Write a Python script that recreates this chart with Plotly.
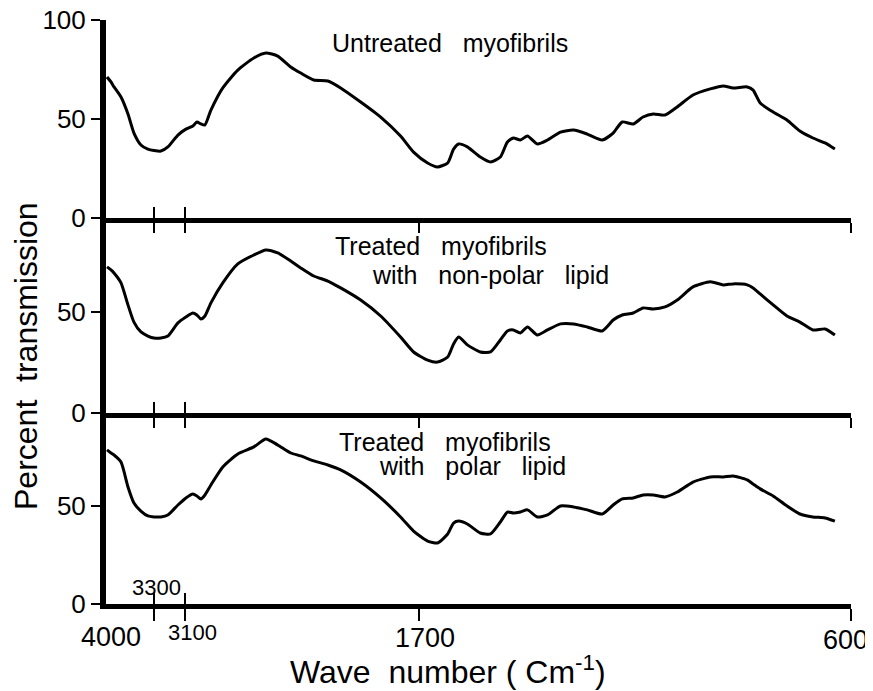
import numpy as np
import plotly.graph_objects as go
from plotly.subplots import make_subplots

WAVENUMBER = [3985, 3927, 3883, 3781, 3679, 3592, 3490, 3388, 3300, 3255, 3210, 3145,
              3094, 3052, 3028, 3004, 2980, 2944, 2873, 2783, 2687, 2615, 2544, 2466,
              2406, 2328, 2244, 2167, 2047, 1927, 1808, 1730, 1677, 1652, 1626, 1611,
              1598, 1576, 1543, 1517, 1492, 1474, 1459, 1441, 1423, 1398, 1372, 1339,
              1306, 1271, 1233, 1205, 1182, 1154, 1129, 1103, 1073, 1042, 1002, 958,
              925, 900, 864, 849, 831, 798, 763, 730, 697, 666, 641]

UNTREATED = [71.2, 68.7, 66.2, 61.1, 52.5, 42.9, 36.9, 34.8, 34.1, 33.8, 35.9, 41.9,
             44.9, 46.5, 48.5, 47.5, 47.0, 54.5, 65.7, 74.7, 80.8, 83.3, 81.8, 76.3,
             73.2, 69.7, 69.2, 65.7, 58.6, 51.0, 41.4, 33.3, 27.8, 25.8, 27.8, 34.8,
             37.4, 35.9, 30.8, 28.3, 30.8, 38.4, 40.4, 39.4, 41.4, 37.4, 39.4, 43.4,
             44.4, 42.4, 39.4, 42.9, 48.5, 47.5, 51.0, 52.5, 52.0, 56.1, 62.1, 65.2,
             66.7, 65.7, 66.2, 64.6, 58.1, 53.5, 49.5, 43.9, 40.4, 37.9, 34.8]

NON_POLAR = [72.3, 70.8, 69.3, 64.4, 53.5, 45.0, 40.1, 38.1, 37.1, 37.1, 38.1, 44.6,
             47.5, 49.5, 48.5, 46.5, 48.0, 54.5, 64.4, 73.8, 78.2, 80.7, 79.2, 75.2,
             71.8, 67.8, 65.3, 61.9, 55.9, 48.0, 37.6, 30.2, 26.2, 25.2, 27.7, 34.2,
             37.6, 33.7, 30.2, 30.2, 36.1, 40.6, 41.1, 39.6, 42.6, 38.6, 41.1, 44.1,
             44.1, 42.6, 40.6, 46.0, 48.5, 49.5, 52.0, 51.5, 52.5, 55.9, 62.4, 64.9,
             63.4, 63.9, 63.4, 61.9, 58.9, 53.5, 48.0, 45.0, 41.1, 41.6, 38.6]

POLAR = [78.6, 77.0, 76.0, 72.4, 59.7, 51.5, 47.4, 44.9, 44.4, 44.4, 45.4, 50.5,
         54.1, 56.1, 55.1, 53.6, 55.6, 60.7, 69.9, 76.5, 80.1, 84.2, 81.1, 77.0,
         75.5, 73.0, 70.9, 68.4, 62.2, 54.1, 44.4, 37.2, 32.1, 31.1, 35.7, 41.3,
         42.3, 40.8, 36.2, 35.7, 41.8, 46.9, 46.4, 46.9, 48.0, 44.4, 45.4, 50.0,
         49.5, 48.0, 45.9, 50.5, 53.6, 54.1, 55.6, 55.6, 54.6, 57.1, 62.2, 64.8,
         64.8, 65.3, 63.3, 61.2, 58.7, 55.1, 50.0, 45.9, 44.4, 43.9, 42.3]

SP = "\u00a0\u00a0\u00a0"
PANEL_LABELS = [
    ["Untreated" + SP + "myofibrils"],
    ["Treated" + SP + "myofibrils", "with" + SP + "non-polar" + SP + "lipid"],
    ["Treated" + SP + "myofibrils", "with" + SP + "polar" + SP + "lipid"],
]

# the printed wave-number scale is piecewise linear between these marks
AXIS_WN = [4000, 3300, 3100, 1700, 600]
AXIS_POS = [0, 48, 79, 313, 746]

X_TICK_TEXT = ["4000", "3300", "3100", "1700", "600"]

FONT = "Liberation Sans, Arial, sans-serif"


def to_axis(wn):
    return np.interp(-np.asarray(wn, dtype=float), [-w for w in AXIS_WN], AXIS_POS)


# page body has an 8px margin, so the figure is 8px smaller than the window
W, H = 865, 683
L, R, T, B = 98, 22, 12, 87
PW, PH = W - L - R, H - T - B
X0, Y0 = 106, 604  # plot-area origin in window pixels


def px(x):
    return (x - X0) / PW


def py(y):
    return (Y0 - y) / PH


fig = make_subplots(rows=3, cols=1, vertical_spacing=0)

series = [UNTREATED, NON_POLAR, POLAR]
for i, vals in enumerate(series):
    fig.add_trace(go.Scatter(
        x=to_axis(WAVENUMBER), y=vals, mode="lines",
        line=dict(color="black", width=3, shape="spline", smoothing=0.6),
        showlegend=False, hoverinfo="skip",
    ), row=i + 1, col=1)

domains = [[py(218), 1.0], [py(413), py(218)], [0.0, py(413)]]
ranges = [[0, 100], [0, 96.5], [0, 97.4]]
yticks = [[0, 50, 100], [0, 50], [0, 50]]

for i in range(3):
    ax = "" if i == 0 else str(i + 1)
    fig.layout["yaxis" + ax].update(
        domain=domains[i], range=ranges[i], tickvals=yticks[i],
        showline=True, linewidth=6, linecolor="black",
        ticks="outside", ticklen=9, tickwidth=2, tickcolor="black",
        showgrid=False, zeroline=False, automargin=False, ticklabeloverflow="allow",
        tickfont=dict(family=FONT, size=26, color="black"),
    )
    tv = to_axis([3300, 3100, 1700, 600])
    fig.layout["xaxis" + ax].update(
        range=[0, 746], tickvals=tv,
        showline=True, linewidth=5, linecolor="black",
        ticks="outside", ticklen=12 if i == 2 else 10, tickwidth=2, tickcolor="black",
        minor=dict(tickvals=to_axis([3300, 3100]), ticks="inside", ticklen=11,
                   tickwidth=2, tickcolor="black"),
        showgrid=False, zeroline=False, showticklabels=False, automargin=False,
    )

annotations = []
label_pos = [[(330, 43)], [(333, 246), (370, 275)], [(337, 442), (377, 466)]]
for lines, spots in zip(PANEL_LABELS, label_pos):
    for text, (x, y) in zip(lines, spots):
        annotations.append(dict(
            text=text, x=px(x), y=py(y), xref="paper", yref="paper",
            xanchor="left", yanchor="middle", showarrow=False,
            font=dict(family=FONT, size=25, color="black"),
        ))

# wave-number labels of the bottom axis (3300 sits above the axis)
tick_spots = [(111, 637, 27), (156, 587, 22), (192, 632, 22), (425, 638, 27), (845, 640, 27)]
for text, (x, y, size) in zip(X_TICK_TEXT, tick_spots):
    annotations.append(dict(
        text=text, x=px(x), y=py(y), xref="paper", yref="paper",
        xanchor="center", yanchor="middle", showarrow=False,
        font=dict(family=FONT, size=size, color="black"),
    ))

annotations.append(dict(
    text="Percent  transmission", x=px(26), y=py(356), xref="paper", yref="paper",
    xanchor="center", yanchor="middle",
    textangle=-90, showarrow=False, font=dict(family=FONT, size=32, color="black"),
))
annotations.append(dict(
    text="Wave  number ( Cm<sup>-1</sup>)", x=px(448), y=py(670), xref="paper", yref="paper",
    xanchor="center", yanchor="middle",
    showarrow=False, font=dict(family=FONT, size=32, color="black"),
))

fig.update_layout(
    width=W, height=H,
    margin=dict(l=L, r=R, t=T, b=B),
    paper_bgcolor="white", plot_bgcolor="white",
    annotations=annotations,
)

fig.write_html("out.html")
